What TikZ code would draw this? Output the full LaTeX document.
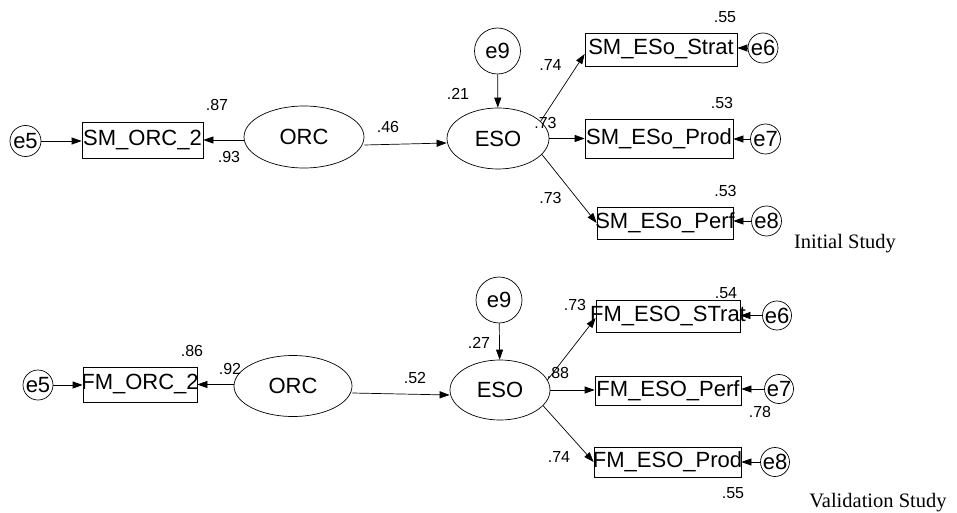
\documentclass[tikz,border=0pt]{standalone}
\usepackage{fontspec}
\setmainfont{Liberation Sans}
\newfontfamily\tnrfont{Liberation Serif}
\usetikzlibrary{shapes.geometric,arrows.meta}
\newcommand\nodefont{\fontsize{22}{25}\selectfont}
\newcommand\lblfont{\fontsize{16}{18}\selectfont}
\newcommand\fitxt[1]{\makebox[0pt][c]{#1}}
\begin{document}
\begin{tikzpicture}[x=1pt,y=-1pt,
  lat/.style={ellipse,draw,inner sep=0pt,line width=0.7pt,font=\nodefont},
  obs/.style={rectangle,draw,inner sep=0pt,line width=0.7pt,font=\nodefont},
  err/.style={circle,draw,inner sep=0pt,line width=0.7pt,font=\nodefont},
  lbl/.style={inner sep=0pt,font=\lblfont},
  captxt/.style={inner sep=0pt,font=\tnrfont\fontsize{20.5}{23}\selectfont},
  arr/.style={-{Triangle[length=10pt,width=7pt]},line width=0.7pt}]
\useasboundingbox (0,0) rectangle (957,513);
% ---------- Initial study ----------
\node[err,minimum size=31pt] (e5a) at (25.5,141) {\fitxt{e5}};
\node[obs,minimum width=121pt,minimum height=36pt] (smorc) at (142.5,140) {\fitxt{SM\_ORC\_2}};
\node[lat,minimum width=120pt,minimum height=62pt] (orca) at (304,137) {ORC};
\node[lat,minimum width=102pt,minimum height=61pt] (esoa) at (498,138.5) {ESO};
\node[err,minimum size=46pt] (e9a) at (497.5,51) {e9};
\node[obs,minimum width=152pt,minimum height=33pt] (strat) at (661,49.5) {\fitxt{SM\_ESo\_Strat}};
\node[obs,minimum width=148pt,minimum height=39pt] (prod) at (659,138.5) {\fitxt{SM\_ESo\_Prod}};
\node[obs,minimum width=136pt,minimum height=32pt] (perf) at (665,223) {\fitxt{SM\_ESo\_Perf}};
\node[err,minimum size=30pt] (e6a) at (763,48) {\fitxt{e6}};
\node[err,minimum size=30pt] (e7a) at (765.5,139) {\fitxt{e7}};
\node[err,minimum size=30pt] (e8a) at (766.5,221) {\fitxt{e8}};

\draw[arr] (e5a.east) -- (smorc.west |- e5a.east);
\draw[arr] (orca.west |- smorc.east) -- (smorc.east);
\draw[arr] ([yshift=-8pt]orca.east) -- ([yshift=-4.5pt]esoa.west);
\draw[arr] (e9a) -- (esoa);
\draw[arr] (esoa.22) -- ([yshift=-4.5pt]strat.west);
\draw[arr] (esoa.east) -- (prod.west |- esoa.east);
\draw[arr] (esoa.-20) -- (perf.west);
\draw[arr] (e6a.west) -- (strat.east |- e6a.west);
\draw[arr] (e7a.west) -- (prod.east |- e7a.west);
\draw[arr] (e8a.west) -- (perf.east |- e8a.west);

\node[lbl] (l87) at (217,105) {.87};
\node[lbl] (l93) at (229,157) {.93};
\node[lbl] (l46) at (388,127) {.46};
\node[lbl] (l21) at (458,94) {.21};
\node[lbl] (l74a) at (550.5,65) {.74};
\node[lbl] (l73a) at (545.5,122.5) {.73};
\node[lbl] (l73b) at (550.5,198) {.73};
\node[lbl] (l55a) at (725,17) {.55};
\node[lbl] (l53a) at (722,103) {.53};
\node[lbl] (l53b) at (725.5,191) {.53};
\node[captxt] (initial) at (845,244) {Initial Study};

% ---------- Validation study ----------
\node[err,minimum size=30pt] (e5b) at (38,385) {\fitxt{e5}};
\node[obs,minimum width=114pt,minimum height=35pt] (fmorc) at (140,384.5) {\fitxt{FM\_ORC\_2}};
\node[lat,minimum width=118pt,minimum height=61pt] (orcb) at (293,386) {ORC};
\node[lat,minimum width=100pt,minimum height=60pt] (esob) at (500,390) {ESO};
\node[err,minimum size=46pt] (e9b) at (499,300) {e9};
\node[obs,minimum width=144pt,minimum height=32pt] (fstrat) at (668,316) {\fitxt{FM\_ESO\_STrat}};
\node[obs,minimum width=146pt,minimum height=29pt] (fperf) at (668,391) {\fitxt{FM\_ESO\_Perf}};
\node[obs,minimum width=147pt,minimum height=30pt] (fprod) at (667.5,462) {\fitxt{FM\_ESO\_Prod}};
\node[err,minimum size=29pt] (e6b) at (777,315.5) {\fitxt{e6}};
\node[err,minimum size=29pt] (e7b) at (779,389) {\fitxt{e7}};
\node[err,minimum size=29pt] (e8b) at (775,462) {\fitxt{e8}};

\draw[arr] (e5b.east) -- (fmorc.west |- e5b.east);
\draw[arr] (orcb.west |- fmorc.east) -- (fmorc.east);
\draw[arr] ([yshift=-7pt]orcb.east) -- ([yshift=-5pt]esob.west);
\draw[arr] (e9b) -- (esob);
\draw[arr] (esob.12) -- ([yshift=-2pt]fstrat.west);
\draw[arr] (esob.east) -- (fperf.west |- esob.east);
\draw[arr] (esob.-20) -- (fprod.west);
\draw[arr] (e6b.west) -- (fstrat.east |- e6b.west);
\draw[arr] (e7b.west) -- (fperf.east |- e7b.west);
\draw[arr] (e8b.west) -- (fprod.east |- e8b.west);

\node[lbl] (l86) at (192,351) {.86};
\node[lbl] (l92) at (230,369) {.92};
\node[lbl] (l52) at (415,378) {.52};
\node[lbl] (l27) at (479,343) {.27};
\node[lbl] (l73c) at (575,305) {.73};
\node[lbl] (l88) at (558,373) {.88};
\node[lbl] (l74b) at (559,457) {.74};
\node[lbl] (l54) at (726,293) {.54};
\node[lbl] (l78) at (760,412) {.78};
\node[lbl] (l55b) at (733,493) {.55};
\node[captxt] (validation) at (878,503) {Validation Study};
\end{tikzpicture}
\end{document}
